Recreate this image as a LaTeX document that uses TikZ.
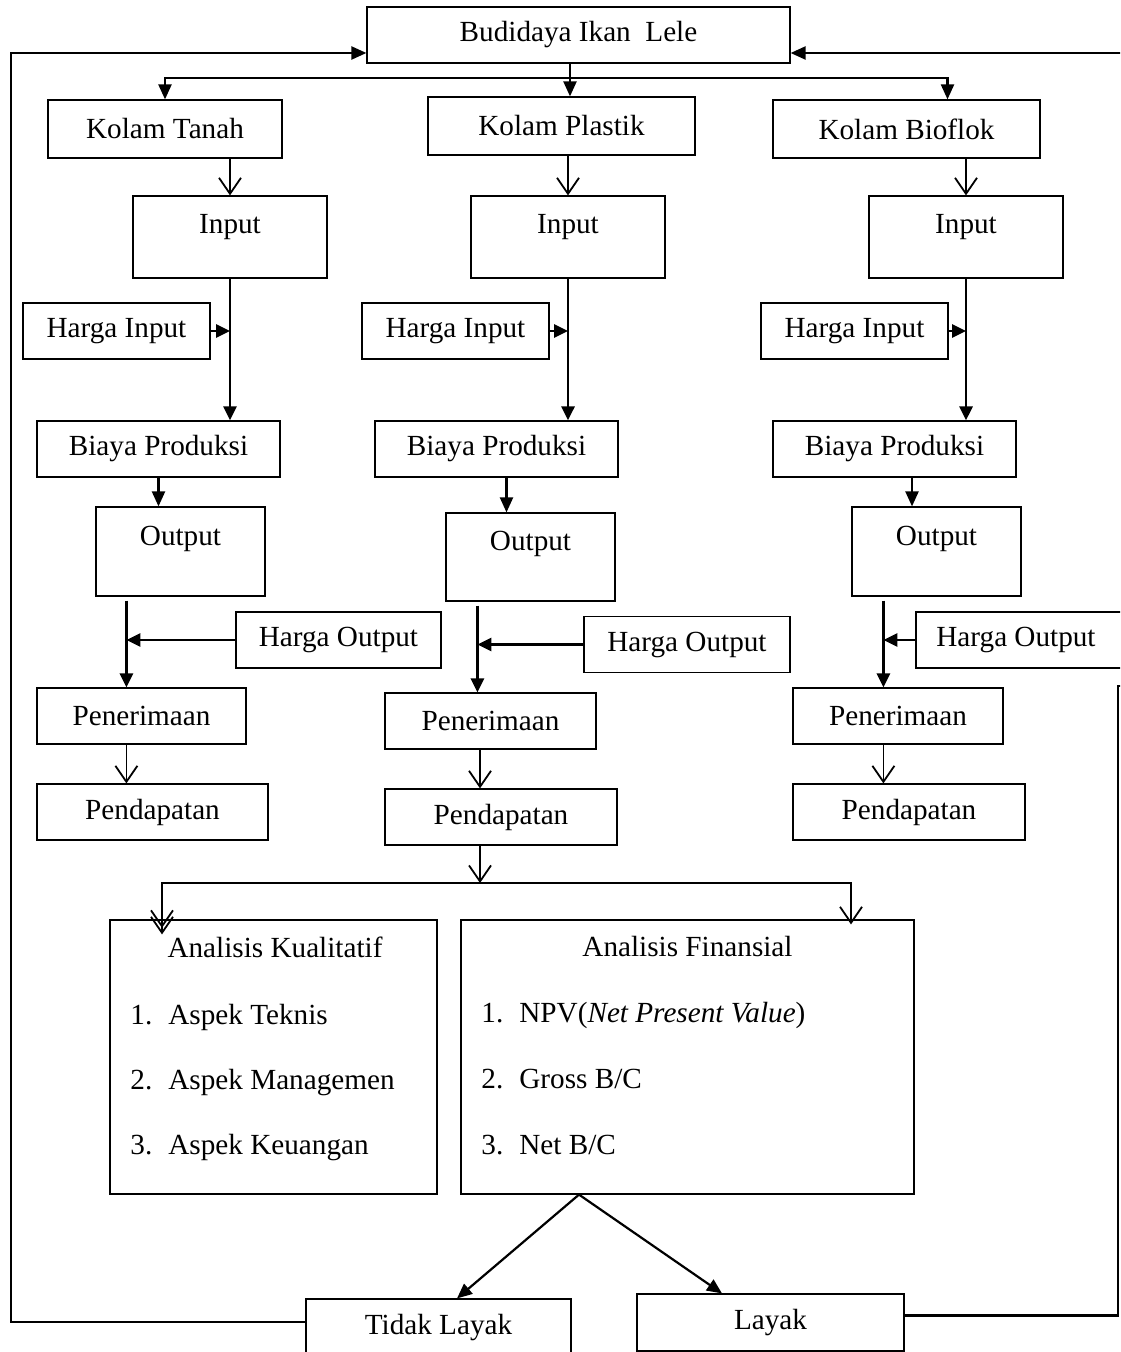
\documentclass[tikz,border=0pt]{standalone}
\usepackage{fontspec}
\setmainfont{Liberation Serif}
\usetikzlibrary{arrows.meta,positioning,calc}

\newcommand{\huruf}{\fontsize{14.6pt}{17pt}\selectfont}

\begin{document}
\begin{tikzpicture}[x=0.5pt,y=-0.5pt,
	kotak/.style={draw,rectangle,line width=0.6pt,inner sep=0pt,minimum height=28pt,font=\huruf},
	kotakin/.style={kotak,minimum width=97pt,text height=18.75pt,text depth=22.25pt},
	teks/.style={inner sep=0pt,font=\huruf},
	tebal/.style={line width=1.4pt,-{Triangle[length=7pt,width=6.5pt]}},
	cabang/.style={line width=1.1pt,-{Triangle[length=7.5pt,width=6.5pt]}},
	tipis/.style={line width=0.9pt,-{Straight Barb[length=8pt,width=11pt]}},
	balik/.style={line width=1.1pt,-{Triangle[length=7.5pt,width=6.5pt]}}]

	\useasboundingbox (0,0) rectangle (1120,1352);
	\clip (0,0) rectangle (1120,1352);

	% Judul
	% -----
	\node[kotak,minimum width=211.5pt] (budi) at (578.5,35) {Budidaya Ikan~ Lele};

	% Kolam Tanah
	% -----------
	\node[kotak,minimum width=117pt,minimum height=29pt] (ktanah) at (165,129) {Kolam Tanah};
	\node[kotakin] (in1) at (230,237) {Input};
	\node[kotak,minimum width=93.5pt] (hin1) at (116.5,331) {Harga Input};
	\node[kotak,minimum width=121.5pt] (by1) at (158.5,449) {Biaya Produksi};
	\node[kotak,minimum width=84.5pt,text height=19.25pt,text depth=25.25pt] (out1) at (180.5,551.5) {Output};
	\node[kotak,minimum width=102.5pt] (hout1) at (338.5,640) {Harga Output};
	\node[kotak,minimum width=104.5pt] (pen1) at (141.5,716) {Penerimaan};
	\node[kotak,minimum width=115.5pt] (pd1) at (152.5,812) {Pendapatan};

	% Kolam Plastik
	% -------------
	\node[kotak,minimum width=133.5pt,minimum height=29pt] (kplastik) at (561.5,126) {Kolam Plastik};
	\node[kotakin] (in2) at (568,237) {Input};
	\node[kotak,minimum width=93.5pt] (hin2) at (455.5,331) {Harga Input};
	\node[kotak,minimum width=121.5pt] (by2) at (496.5,449) {Biaya Produksi};
	\node[kotak,minimum width=84.5pt,text height=18.75pt,text depth=25.25pt] (out2) at (530.5,557) {Output};
	\node[kotak,minimum width=103pt] (hout2) at (687,644.5) {Harga Output};
	\node[kotak,minimum width=105.5pt] (pen2) at (490.5,721) {Penerimaan};
	\node[kotak,minimum width=116pt] (pd2) at (501,817) {Pendapatan};

	% Kolam Bioflok
	% -------------
	\node[kotak,minimum width=133.5pt,minimum height=29pt] (kbioflok) at (906.5,129) {Kolam Bioflok};
	\node[kotakin] (in3) at (966,237) {Input};
	\node[kotak,minimum width=93.5pt] (hin3) at (854.5,331) {Harga Input};
	\node[kotak,minimum width=121.5pt] (by3) at (894.5,449) {Biaya Produksi};
	\node[kotak,minimum width=84.5pt,text height=19.25pt,text depth=25.25pt] (out3) at (936.5,551.5) {Output};
	\node[kotak,minimum width=108pt] (hout3) at (1024,640) {\hspace*{-8pt}Harga Output};
	\node[kotak,minimum width=105pt] (pen3) at (898,716) {Penerimaan};
	\node[kotak,minimum width=116pt] (pd3) at (909,812) {Pendapatan};

	% Analisis
	% --------
	\node[kotak,minimum width=163.5pt,minimum height=137pt] (kual) at (273.5,1057) {};
	\node[teks] (kualjudul) at (275,947) {Analisis Kualitatif};
	\node[teks,anchor=base west] (kual1) at (130,1024.5) {\makebox[19pt][l]{1.}Aspek Teknis};
	\node[teks,anchor=base west] (kual2) at (130,1089.5) {\makebox[19pt][l]{2.}Aspek Managemen};
	\node[teks,anchor=base west] (kual3) at (130,1154.5) {\makebox[19pt][l]{3.}Aspek Keuangan};

	\node[kotak,minimum width=226.5pt,minimum height=137pt] (fin) at (687.5,1057) {};
	\node[teks] (finjudul) at (687.5,947) {Analisis Finansial};
	\node[teks,anchor=base west] (fin1) at (481,1022.5) {\makebox[19pt][l]{1.}NPV(\textit{Net Present Value})};
	\node[teks,anchor=base west] (fin2) at (481,1088.5) {\makebox[19pt][l]{2.}Gross B/C};
	\node[teks,anchor=base west] (fin3) at (481,1154.5) {\makebox[19pt][l]{3.}Net B/C};

	\node[kotak,minimum width=132.5pt,minimum height=28.5pt] (tidak) at (438.5,1327.5) {Tidak Layak};
	\node[kotak,minimum width=133.5pt,minimum height=28.5pt] (layak) at (770.5,1322.5) {Layak};

	% titik bantu
	\coordinate (cab1) at (570,78);
	\coordinate (cab2) at (480,883);
	\coordinate (b2) at ([xshift=5pt]by2.south);
	\coordinate (b3) at ([xshift=8.75pt]by3.south);
	\coordinate (o1) at ([xshift=15.5pt,yshift=-2pt]out1.south west);
	\coordinate (o2) at ([xshift=16pt,yshift=-2pt]out2.south west);
	\coordinate (o3) at ([xshift=16pt,yshift=-2pt]out3.south west);
	\coordinate (pisah) at ([xshift=-54.25pt]fin.south);
	\coordinate (kiri) at (11,700);
	\coordinate (kanan) at (1118,686);

	% percabangan atas
	\draw [cabang] (budi.south -| cab1) -- (kplastik.north -| cab1);
	\draw [cabang] (cab1) -| (ktanah.north);
	\draw [cabang] (cab1) -| ([xshift=20.5pt]kbioflok.north);

	% kolom kiri, tengah, kanan
	\draw [tipis] (ktanah.south -| in1.north) -- (in1.north);
	\draw [tipis] (kplastik.south -| in2.north) -- (in2.north);
	\draw [tipis] (kbioflok.south -| in3.north) -- (in3.north);

	\draw [tebal] (in1.south) -- (in1.south |- by1.north);
	\draw [tebal] (in2.south) -- (in2.south |- by2.north);
	\draw [tebal] (in3.south) -- (in3.south |- by3.north);
	\draw [tebal] (hin1.east) -- (hin1.east -| in1.south);
	\draw [tebal] (hin2.east) -- (hin2.east -| in2.south);
	\draw [tebal] (hin3.east) -- (hin3.east -| in3.south);

	\draw [cabang] (by1.south) -- (by1.south |- out1.north);
	\draw [cabang] (b2) -- (b2 |- out2.north);
	\draw [cabang] (b3) -- (b3 |- out3.north);

	\draw [tebal] (o1) -- (o1 |- pen1.north);
	\draw [tebal] (o2) -- (o2 |- pen2.north);
	\draw [tebal] (o3) -- (o3 |- pen3.north);
	\draw [tebal] (hout1.west) -- (hout1.west -| o1);
	\draw [tebal] (hout2.west) -- (hout2.west -| o2);
	\draw [tebal] (hout3.west) -- (hout3.west -| o3);

	\draw [tipis] (pen1.south -| o1) -- (pd1.north -| o1);
	\draw [tipis] (pen2.south -| cab2) -- (pd2.north -| cab2);
	\draw [tipis] (pen3.south -| o3) -- (pd3.north -| o3);

	% percabangan bawah
	\draw [tipis] (pd2.south -| cab2) -- (cab2);
	\draw [line width=0.9pt,-{Straight Barb[length=8pt,width=11pt,sep=-6pt]Straight Barb[length=8pt,width=11pt]}]
		(cab2) -| ([xshift=-55.75pt,yshift=-7.5pt]kual.north);
	\draw [tipis] (cab2) -| ([xshift=81.75pt,yshift=-2.5pt]fin.north);

	% hasil kelayakan
	\draw [cabang] (pisah) -- ([xshift=9.25pt]tidak.north);
	\draw [cabang] (pisah) -- ([xshift=-24.25pt]layak.north);

	% umpan balik
	\draw [balik] ([yshift=2.75pt]tidak.west) -| (kiri) |- ([yshift=-9pt]budi.west);
	\draw [balik] ([yshift=3.5pt]layak.east) -| (kanan) -- ++(16,0) |- ([yshift=-9pt]budi.east);

\end{tikzpicture}
\end{document}
